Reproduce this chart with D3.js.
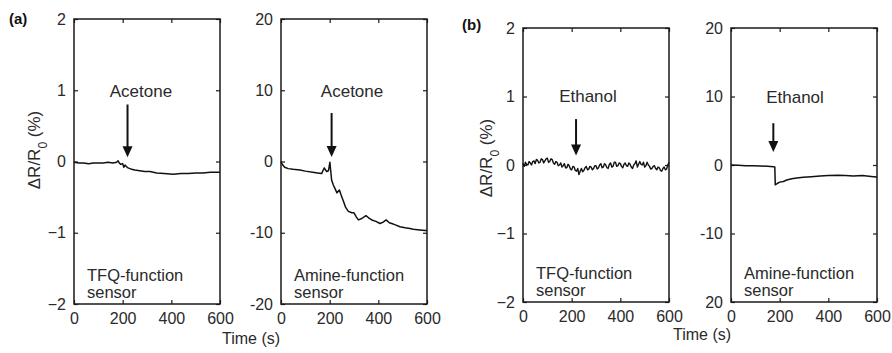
<!DOCTYPE html>
<html>
<head>
<meta charset="utf-8">
<script src="https://cdn.jsdelivr.net/npm/d3@7"></script>
<style>
  body { margin: 0; background: #fff; }
  svg { display: block; font-family: "Liberation Sans", Arial, sans-serif; }
</style>
</head>
<body>
<div id="container"></div>
<script>
// ---- data ----
// (a) TFQ-function sensor, acetone
tA1 = [0, 20, 40, 60, 80, 100, 120, 140, 160, 175, 181, 186, 192, 200, 205, 210, 215, 222, 230, 237, 250, 270, 290, 312, 340, 370, 407, 440, 470, 500, 530, 560, 586, 600];
vA1 = [-0.01, -0.02, -0.02, -0.03, -0.02, -0.02, -0.02, -0.01, -0.02, -0.01, 0.01, -0.02, -0.04, -0.03, -0.08, -0.05, -0.07, -0.09, -0.1, -0.11, -0.12, -0.13, -0.14, -0.14, -0.16, -0.17, -0.18, -0.17, -0.17, -0.16, -0.16, -0.15, -0.15, -0.15];
// (a) Amine-function sensor, acetone
tA2 = [0, 5, 15, 30, 50, 78, 100, 130, 150, 167, 172, 178, 183, 188, 195, 201, 204, 208, 215, 222, 230, 240, 247, 257, 265, 277, 291, 300, 310, 318, 332, 349, 360, 373, 390, 407, 420, 432, 445, 455, 470, 489, 510, 530, 544, 570, 592, 600];
vA2 = [0, -0.4, -0.8, -1.0, -1.1, -1.2, -1.35, -1.5, -1.6, -1.7, -1.3, -0.9, -1.2, -1.4, -1.3, -0.1, -1.2, -2.6, -3.3, -3.8, -4.4, -4.0, -4.7, -5.6, -6.4, -7.0, -7.2, -7.2, -7.8, -8.2, -8.0, -7.6, -7.9, -8.2, -8.4, -8.7, -8.5, -8.2, -8.6, -8.7, -8.9, -9.15, -9.3, -9.4, -9.5, -9.6, -9.7, -9.7];
// (b) TFQ-function sensor, ethanol (noisy trace, 5 s steps)
tB1 = [0, 5, 10, 15, 20, 25, 30, 35, 40, 45, 50, 55, 60, 65, 70, 75, 80, 85, 90, 95,
    100, 105, 110, 115, 120, 125, 130, 135, 140, 145, 150, 155, 160, 165, 170, 175, 180, 185, 190, 195,
    200, 205, 210, 215, 220, 225, 230, 235, 240, 245, 250, 255, 260, 265, 270, 275, 280, 285, 290, 295,
    300, 305, 310, 315, 320, 325, 330, 335, 340, 345, 350, 355, 360, 365, 370, 375, 380, 385, 390, 395,
    400, 405, 410, 415, 420, 425, 430, 435, 440, 445, 450, 455, 460, 465, 470, 475, 480, 485, 490, 495,
    500, 505, 510, 515, 520, 525, 530, 535, 540, 545, 550, 555, 560, 565, 570, 575, 580, 585, 590, 595, 600];
vB1 = [0.02, -0.02, 0.04, 0.01, 0.00, 0.05, 0.03, 0.00, 0.05, 0.06, 0.02, 0.08, 0.07, 0.03, 0.04, 0.09, 0.08, 0.03, 0.06, 0.09,
    0.10, 0.04, 0.05, 0.09, 0.08, 0.03, 0.01, 0.05, 0.04, -0.01, 0.00, 0.03, -0.03, -0.01, 0.02, -0.04, -0.04, 0.01, -0.01, -0.06,
    -0.07, -0.02, -0.03, -0.08, -0.09, -0.05, -0.14, -0.09, -0.05, -0.10, -0.08, -0.04, -0.02, -0.07, -0.06, -0.02, -0.03, -0.07, -0.05, -0.01,
    -0.01, -0.06, -0.04, 0.00, 0.02, -0.04, -0.03, 0.02, 0.00, -0.04, -0.05, 0.01, 0.03, -0.03, -0.02, 0.04, 0.04, -0.02, -0.01, 0.03,
    0.02, -0.02, -0.04, 0.01, 0.03, -0.01, -0.02, 0.03, 0.01, -0.03, -0.05, 0.00, 0.02, 0.06, -0.03, 0.01, 0.05, 0.01, 0.00, 0.04,
    -0.03, -0.01, 0.04, 0.00, -0.02, -0.06, -0.05, -0.02, -0.01, -0.05, -0.07, -0.03, -0.04, -0.08, -0.09, -0.05, -0.03, -0.07, -0.06, 0.00, 0.04];
// (b) Amine-function sensor, ethanol
tB2 = [0, 30, 60, 90, 120, 150, 175, 180, 182, 190, 200, 215, 229, 250, 270, 297, 330, 366, 400, 440, 470, 503, 540, 585, 600];
vB2 = [0, -0.05, -0.1, -0.1, -0.15, -0.2, -0.25, -0.3, -2.9, -2.7, -2.5, -2.4, -2.2, -2.0, -1.9, -1.8, -1.7, -1.6, -1.55, -1.5, -1.55, -1.6, -1.55, -1.7, -1.75];

xTicks = [0, 200, 400, 600];
yTicksSmall = [-2, -1, 0, 1, 2];
yTicksLarge = [-20, -10, 0, 10, 20];
yLabelsLarge = ["-20", "-10", "0", "10", "20"];
yLabelsB2 = ["20", "-10", "0", "10", "20"];   // bottom label printed as "20" in the figure

gases = ["Acetone", "Acetone", "Ethanol", "Ethanol"];
sensors = ["TFQ-function", "Amine-function", "TFQ-function", "Amine-function"];
arrowT = [220, 208, 218, 174];
arrowTop = [0.8, 6.8, 0.67, 6.1];
arrowBot = [0.06, 0.63, 0.14, 1.9];
gasT = [275, 292, 267, 263];
gasV = [0.91, 9.05, 0.92, 9.05];

// ---- layout ----
width = 892;
height = 353;
panels = [
    { x: 74, y: 19, w: 146, h: 285, t: tA1, v: vA1, ticks: yTicksSmall, labels: null, sw: 1.5 },
    { x: 281, y: 19, w: 146, h: 285, t: tA2, v: vA2, ticks: yTicksLarge, labels: yLabelsLarge, sw: 1.5 },
    { x: 523, y: 28, w: 146, h: 274, t: tB1, v: vB1, ticks: yTicksSmall, labels: null, sw: 1.4 },
    { x: 731, y: 28, w: 146, h: 274, t: tB2, v: vB2, ticks: yTicksLarge, labels: yLabelsB2, sw: 1.5 }
];

const svg = d3.select("#container").append("svg")
    .attr("width", width)
    .attr("height", height);

const ink = "#1a1a1a";
const textInk = "#2a2a2a";

panels.forEach((p, i) => {
    const x = d3.scaleLinear().domain([0, 600]).range([0, p.w]);
    const ext = d3.extent(p.ticks);
    const y = d3.scaleLinear().domain(ext).range([p.h, 0]);
    const g = svg.append("g").attr("transform", `translate(${p.x},${p.y})`);

    const fmtY = p.labels ? (d => p.labels[p.ticks.indexOf(d)]) : d3.format("d");

    // axes with inward ticks
    g.append("g").attr("transform", `translate(0,${p.h})`)
        .call(d3.axisBottom(x).tickValues(xTicks).tickSizeInner(-4).tickSizeOuter(0).tickPadding(9));
    g.append("g")
        .call(d3.axisLeft(y).tickValues(p.ticks).tickFormat(fmtY).tickSizeInner(-4).tickSizeOuter(0).tickPadding(8));
    g.append("g").call(d3.axisTop(x).tickValues(xTicks).tickSizeInner(-4).tickSizeOuter(0).tickFormat(""));
    g.append("g").attr("transform", `translate(${p.w},0)`)
        .call(d3.axisRight(y).tickValues(p.ticks).tickSizeInner(-4).tickSizeOuter(0).tickFormat(""));

    g.selectAll(".domain").remove();
    g.selectAll(".tick line").attr("stroke", ink).attr("stroke-width", 1.2);
    g.selectAll(".tick text")
        .attr("fill", textInk)
        .style("font-size", "16px")
        .style("font-family", "'Liberation Sans', Arial, sans-serif");

    // frame
    g.append("rect")
        .attr("width", p.w).attr("height", p.h)
        .attr("fill", "none").attr("stroke", ink).attr("stroke-width", 1.5);

    // trace
    const line = d3.line().x((d, k) => x(p.t[k])).y(d => y(d));
    g.append("path")
        .datum(p.v)
        .attr("d", line)
        .attr("fill", "none")
        .attr("stroke", "#111")
        .attr("stroke-width", p.sw)
        .attr("stroke-linejoin", "round");

    // gas label + arrow
    g.append("text")
        .attr("x", x(gasT[i])).attr("y", y(gasV[i]))
        .attr("text-anchor", "middle")
        .attr("fill", textInk)
        .style("font-size", "17px")
        .text(gases[i]);

    const ax = x(arrowT[i]), y0 = y(arrowTop[i]), y1 = y(arrowBot[i]);
    g.append("line")
        .attr("x1", ax).attr("x2", ax)
        .attr("y1", y0).attr("y2", y1 - 8)
        .attr("stroke", "#111").attr("stroke-width", 2);
    g.append("path")
        .attr("d", `M${ax - 5},${y1 - 11}L${ax + 5},${y1 - 11}L${ax},${y1}Z`)
        .attr("fill", "#111");

    // sensor name
    const st = g.append("text")
        .attr("x", 13).attr("y", p.h - 23)
        .attr("fill", textInk)
        .style("font-size", "16.5px");
    st.append("tspan").text(sensors[i]);
    st.append("tspan").attr("x", 13).attr("dy", 17).text("sensor");
});

// axis titles
function yTitle(cx, cy) {
    const t = svg.append("text")
        .attr("transform", `translate(${cx},${cy}) rotate(-90)`)
        .attr("text-anchor", "middle")
        .attr("fill", textInk)
        .style("font-size", "17px");
    t.append("tspan").text("\u0394R/R");
    t.append("tspan").attr("baseline-shift", "sub").style("font-size", "12px").text("0");
    t.append("tspan").text(" (%)");
}
yTitle(40, 150);
yTitle(492, 158);

svg.append("text").attr("x", 251).attr("y", 344).attr("text-anchor", "middle")
    .attr("fill", textInk).style("font-size", "16px").text("Time (s)");
svg.append("text").attr("x", 702).attr("y", 340).attr("text-anchor", "middle")
    .attr("fill", textInk).style("font-size", "16px").text("Time (s)");

svg.append("text").attr("x", 9).attr("y", 24)
    .attr("fill", "#111").style("font-size", "15px").style("font-weight", "bold").text("(a)");
svg.append("text").attr("x", 462).attr("y", 30)
    .attr("fill", "#111").style("font-size", "15px").style("font-weight", "bold").text("(b)");
</script>
</body>
</html>
